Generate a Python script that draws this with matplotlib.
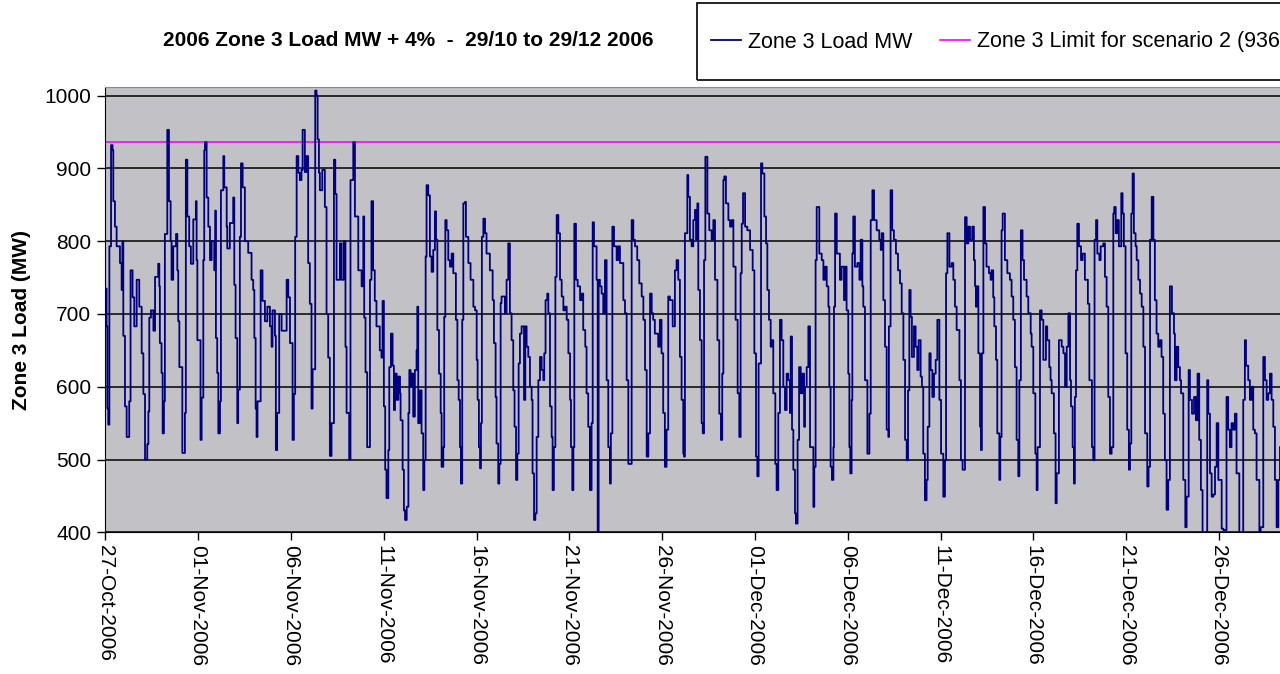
import datetime as dt
import matplotlib
matplotlib.use("Agg")
import matplotlib.pyplot as plt
import matplotlib.dates as mdates
from matplotlib.patches import Rectangle

plt.rcParams['font.family'] = ['Liberation Sans', 'DejaVu Sans']

# readings: days since 27-Oct-2006 00:00, load in MW
days = [
    0.00, 0.07, 0.11, 0.16, 0.22, 0.31, 0.39, 0.43, 0.52, 0.61, 0.79, 0.88, 0.92, 0.97,
    1.06, 1.15, 1.29, 1.36, 1.47, 1.56, 1.69, 1.83, 1.96, 2.05, 2.14, 2.26, 2.32, 2.37,
    2.46, 2.59, 2.68, 2.85, 2.91, 2.94, 3.03, 3.09, 3.16, 3.21, 3.34, 3.43, 3.52, 3.57,
    3.66, 3.81, 3.88, 3.93, 3.99, 4.15, 4.29, 4.34, 4.42, 4.52, 4.61, 4.74, 4.88, 4.92,
    4.96, 5.13, 5.19, 5.28, 5.33, 5.37, 5.46, 5.55, 5.64, 5.73, 5.87, 5.92, 5.96, 6.03,
    6.09, 6.18, 6.23, 6.36, 6.41, 6.54, 6.57, 6.71, 6.89, 6.95, 7.02, 7.11, 7.16, 7.25,
    7.31, 7.40, 7.52, 7.70, 7.88, 7.97, 8.03, 8.10, 8.15, 8.20, 8.37, 8.47, 8.60, 8.73,
    8.87, 8.96, 9.01, 9.14, 9.19, 9.26, 9.37, 9.50, 9.77, 9.86, 9.95, 10.09, 10.16, 10.23,
    10.31, 10.40, 10.48, 10.57, 10.63, 10.75, 10.84, 10.93, 11.02, 11.11, 11.17, 11.31,
    11.38, 11.44, 11.51, 11.56, 11.69, 11.83, 11.92, 12.01, 12.10, 12.19, 12.32, 12.39,
    12.46, 12.64, 12.73, 12.85, 12.94, 13.00, 13.14, 13.21, 13.36, 13.45, 13.63, 13.81,
    13.90, 13.95, 14.02, 14.11, 14.26, 14.34, 14.43, 14.52, 14.61, 14.79, 14.88, 14.94,
    15.01, 15.08, 15.15,
    15.25, 15.30, 15.39, 15.48, 15.55, 15.61, 15.70, 15.79, 15.88, 15.91, 16.02, 16.09,
    16.15, 16.24, 16.33, 16.38, 16.45, 16.50, 16.59, 16.68, 16.77, 16.81, 16.86, 16.95,
    17.04, 17.13, 17.19, 17.26, 17.31, 17.40, 17.49, 17.58, 17.67, 17.76, 17.82, 17.89,
    17.98, 18.07, 18.12, 18.21, 18.26, 18.32, 18.39, 18.48, 18.57, 18.66, 18.75, 18.89,
    18.97, 19.04, 19.11, 19.16, 19.23, 19.29, 19.38, 19.43, 19.56, 19.68, 19.83, 19.92,
    20.01, 20.06, 20.13, 20.19, 20.24, 20.29, 20.37, 20.46, 20.54, 20.72, 20.87, 20.94,
    21.03, 21.08, 21.17, 21.23, 21.30, 21.35, 21.53, 21.62, 21.71, 21.80, 21.89, 21.98,
    22.05, 22.13, 22.20, 22.27, 22.34, 22.43, 22.56, 22.63, 22.70, 22.79, 22.88, 22.97,
    23.02, 23.10, 23.17, 23.24, 23.33, 23.42, 23.51, 23.60, 23.65, 23.72, 23.81, 23.87,
    23.96, 24.05, 24.10, 24.17, 24.25, 24.32, 24.41, 24.50, 24.59, 24.68, 24.77, 24.86,
    24.95, 25.04, 25.09, 25.16, 25.22, 25.27, 25.36, 25.45, 25.58, 25.66, 25.75, 25.86,
    25.93, 26.02, 26.11, 26.20, 26.26, 26.33, 26.47, 26.53, 26.58, 26.65, 26.74, 26.83,
    26.92, 27.01, 27.10, 27.19, 27.24, 27.32, 27.41, 27.55, 27.64, 27.73, 27.91, 28.00,
    28.09, 28.18, 28.36, 28.45, 28.54, 28.66, 28.77, 28.90, 28.99, 29.08, 29.17, 29.26,
    29.35, 29.44, 29.52, 29.61, 29.79, 29.88, 29.97, 30.06, 30.15, 30.24, 30.33, 30.42,
    30.57, 30.69, 30.78, 30.87,
    30.96, 31.05, 31.14, 31.18, 31.23, 31.29, 31.36, 31.41, 31.50, 31.59, 31.68, 31.77,
    31.83, 31.90, 31.95, 32.04, 32.13, 32.19, 32.26, 32.33, 32.44, 32.54, 32.67, 32.76,
    32.85, 32.98, 33.08, 33.17, 33.24, 33.30, 33.35, 33.44, 33.57, 33.66, 33.75, 33.84,
    33.96, 34.07, 34.16, 34.23, 34.29, 34.36, 34.47, 34.59, 34.74, 34.88, 34.97, 35.06,
    35.13, 35.20, 35.33, 35.40, 35.51, 35.60, 35.67, 35.76, 35.85, 35.90, 35.99, 36.10,
    36.17, 36.26, 36.35, 36.44, 36.53, 36.62, 36.71, 36.80, 36.89, 36.93, 37.00, 37.07,
    37.16, 37.21, 37.30, 37.38, 37.47, 37.56, 37.65, 37.70, 37.79, 37.88, 37.97, 38.15,
    38.20, 38.27, 38.33, 38.47, 38.60, 38.69, 38.78, 38.87, 38.96, 39.01, 39.08, 39.15,
    39.23, 39.26, 39.32, 39.41, 39.58, 39.67, 39.80, 39.85, 39.94, 40.03, 40.09, 40.14,
    40.21, 40.25, 40.30, 40.39, 40.52, 40.63, 40.70, 40.79, 40.84, 40.93, 41.06, 41.17,
    41.24, 41.33, 41.42, 41.56, 41.70, 41.78, 41.83, 41.92, 42.01, 42.10, 42.19, 42.22,
    42.31, 42.40, 42.49, 42.60, 42.71, 42.82, 42.91, 43.00, 43.09, 43.18, 43.25, 43.32,
    43.39, 43.46, 43.57, 43.66, 43.75, 43.82, 43.93, 44.00, 44.07, 44.16, 44.25, 44.31,
    44.40, 44.47, 44.56, 44.65, 44.74, 44.83, 44.94, 45.03, 45.15, 45.24, 45.30, 45.37,
    45.48, 45.60, 45.69, 45.78, 45.87, 46.02, 46.10, 46.19,
    46.32, 46.41, 46.50, 46.59, 46.71, 46.80, 46.86, 46.91, 46.95, 47.04, 47.13, 47.18,
    47.23, 47.31, 47.40, 47.48, 47.61, 47.70, 47.75, 47.84, 47.90, 47.99, 48.06, 48.17,
    48.22, 48.29, 48.35, 48.47, 48.60, 48.74, 48.83, 48.92, 49.01, 49.10, 49.19, 49.25,
    49.33, 49.42, 49.50, 49.64, 49.73, 49.86, 49.91, 50.00, 50.11, 50.18, 50.23, 50.36,
    50.45, 50.54, 50.68, 50.75, 50.86, 50.93, 50.99, 51.11, 51.20, 51.26, 51.38, 51.53,
    51.62, 51.71, 51.80, 51.89, 51.98, 52.03, 52.12, 52.19, 52.24, 52.30, 52.37, 52.46,
    52.57, 52.66, 52.78, 52.87, 52.94, 53.02, 53.16, 53.23, 53.30, 53.38, 53.45, 53.56,
    53.63, 53.77, 53.86, 53.95, 54.04, 54.13, 54.22, 54.31, 54.36, 54.44, 54.52, 54.61,
    54.74, 54.81, 54.88, 54.97, 55.06, 55.15, 55.21, 55.28, 55.35, 55.42, 55.51, 55.57,
    55.66, 55.75, 55.84, 55.93, 56.02, 56.14, 56.21, 56.29, 56.38, 56.47, 56.55, 56.64,
    56.73, 56.82, 56.91, 57.00, 57.09, 57.18, 57.27, 57.36, 57.47, 57.58, 57.63, 57.72,
    57.81, 57.90, 57.96, 58.08, 58.19, 58.26, 58.37, 58.44, 58.55, 58.66, 58.76, 58.85,
    58.94, 59.03, 59.12, 59.30, 59.37, 59.43, 59.52, 59.61, 59.70, 59.79, 59.88, 59.97,
    60.15, 60.24, 60.41, 60.50, 60.59, 60.68, 60.77, 60.86, 60.95, 61.10, 61.24, 61.31,
    61.40, 61.46, 61.58, 61.67, 61.76, 61.85, 61.94, 62.03, 62.18, 62.25, 62.39, 62.48,
    62.57, 62.66, 62.75, 62.84, 62.93, 63.02, 63.11, 63.20, 63.29,
]

load_mw = [
    735, 683, 570, 548, 793, 932, 925, 855, 820, 793, 770, 733, 800, 670,
    573, 531, 580, 760, 723, 683, 747, 710, 646, 590, 500, 521, 566, 695,
    705, 677, 751, 769, 738, 660, 619, 536, 580, 810, 953, 855, 800, 747,
    793, 810, 760, 690, 627, 509, 564, 912, 834, 793, 769, 830, 855, 774,
    664, 527, 585, 774, 925, 936, 860, 820, 774, 800, 760, 842, 667, 619,
    536, 580, 870, 917, 874, 820, 790, 825, 860, 740, 667, 550, 596, 806,
    907, 874, 800, 784, 747, 733, 667, 570, 531, 580, 760, 718, 690, 710,
    683, 655, 705, 670, 513, 564, 700, 677, 747, 723, 660, 527, 590, 806,
    917, 894, 884, 898, 953, 895, 917, 770, 714, 570, 624, 1007,
    1000, 940, 894, 870, 898, 847, 700, 640, 505, 550, 912, 865,
    747, 797, 747, 800, 655, 564, 500, 884, 936, 834, 760, 738,
    834, 695, 620, 517, 747, 855, 760, 718, 683, 650, 640, 718,
    573, 486, 447,
    513, 627, 673, 629, 568, 618, 582, 614, 591, 554, 486, 430,
    417, 435, 564, 623, 600, 618, 559, 623, 650, 710, 550, 595,
    536, 458, 499, 779, 877, 863, 779, 758, 788, 841, 802, 678,
    618, 564, 490, 517, 696, 829, 815, 774, 765, 783, 756, 692,
    609, 582, 517, 467, 692, 852, 854, 806, 770, 747, 710, 705,
    637, 582, 517, 488, 550, 806, 831, 811, 783, 760, 719, 660,
    586, 522, 467, 494, 715, 724, 701, 747, 797, 701, 664, 595,
    545, 472, 508, 632, 673, 683, 582, 683, 655, 641, 600, 582,
    481, 417, 426, 531, 609, 641, 623, 609, 646, 719, 728, 701,
    573, 531, 458, 517, 751, 836, 811, 747, 724, 705, 710, 692,
    646, 582, 517, 458, 517, 824, 747, 738, 719, 728, 678, 655,
    591, 545, 458, 550, 826, 793, 747, 395, 747, 738, 728, 701,
    774, 609, 517, 467, 536, 820, 793, 774, 793, 770, 719, 701,
    609, 494, 829, 802, 793, 774, 742, 724, 692, 623, 504, 536,
    728, 701, 692, 673, 655, 692, 646, 564, 490, 541, 724, 719,
    683, 760, 774, 747,
    641, 582, 508, 504, 811, 811, 891, 861, 802, 793, 829, 843,
    802, 852, 733, 664, 550, 536, 774, 916, 838, 815, 802, 829,
    747, 664, 563, 527, 618, 884, 889, 852, 829, 820, 829, 765,
    692, 591, 531, 756, 824, 866, 820, 815, 788, 760, 646, 504,
    477, 632, 907, 893, 834, 797, 733, 692, 655, 664, 591, 494,
    458, 564, 692, 664, 600, 568, 618, 609, 564, 669, 541, 486,
    426, 412, 527, 627, 591, 618, 545, 600, 627, 683, 517, 435,
    490, 774, 847, 783, 774, 747, 765, 738, 710, 600, 490, 472,
    517, 710, 838, 783, 747, 765, 719, 765, 705, 618, 517, 481,
    582, 783, 834, 765, 770, 747, 802, 738, 710, 609, 508, 563,
    829, 870, 829, 815, 802, 788, 811, 719, 655, 541, 531, 683,
    870, 815, 802, 783, 760, 742, 701, 637, 527, 499, 595, 733,
    696, 641, 683, 655, 623, 664, 614, 600, 508, 444, 472, 545,
    646, 623, 586, 618, 637, 692, 582, 508, 449, 499, 756, 811,
    765, 770, 747, 710, 678, 609, 499, 486,
    833, 797, 820, 802, 820, 774, 738, 710, 738, 646, 545, 513,
    646, 847, 797, 765, 756, 747, 760, 723, 683, 637, 536, 472,
    531, 815, 838, 774, 756, 747, 724, 692, 627, 527, 477, 609,
    815, 774, 747, 724, 701, 673, 655, 591, 508, 458, 517, 705,
    692, 637, 683, 664, 627, 609, 591, 536, 440, 481, 664, 655,
    646, 600, 655, 701, 609, 573, 517, 467, 586, 760, 824, 793,
    774, 783, 747, 747, 714, 609, 517, 499, 802, 829, 783, 774,
    793, 797, 751, 710, 586, 508, 517, 838, 847, 811, 829, 793,
    866, 838, 793, 646, 541, 486, 522, 838, 893, 811, 793, 774,
    747, 728, 710, 655, 536, 463, 490, 802, 861, 802, 719, 673,
    655, 664, 641, 563, 499, 431, 472, 738, 701, 673, 609, 655,
    627, 609, 591, 472, 407, 449, 623, 582, 563, 586, 554, 618,
    527, 458, 395, 395, 609, 563, 481, 449, 452, 490, 550, 472,
    405, 403, 586, 541, 517, 550, 541, 563, 481, 395, 395, 582,
    664, 629, 609, 582, 600, 541, 536, 472, 395, 407, 641, 609,
    582, 591, 618, 582, 545, 472, 407, 472, 517,
]

limit_mw = 936
start = dt.datetime(2006, 10, 27)
end_day = 64
tick_step = 5

times = [start + dt.timedelta(days=d) for d in days]
tick_dates = [start + dt.timedelta(days=tick_step * k) for k in range(13)]

fig = plt.figure(figsize=(12.8, 6.74), dpi=100)
ax = fig.add_axes([105.3 / 1280, 141.7 / 674, end_day * 18.56 / 1280, 445 / 674])
ax.set_facecolor('#c2c1c5')

for v in range(400, 1001, 100):
    ax.axhline(v, color='black', lw=1.1, zorder=1)

ax.plot([start, start + dt.timedelta(days=end_day)], [limit_mw, limit_mw],
        color='#ff00ff', lw=1.2, zorder=2, label='Zone 3 Limit for scenario 2 (936 MW)')
ax.plot(times, load_mw, color='#000080', lw=1.3, drawstyle='steps-post', zorder=3,
        label='Zone 3 Load MW')

ax.set_xlim(start, start + dt.timedelta(days=end_day))
ax.set_ylim(400, 1011.5)
ax.set_yticks(range(400, 1001, 100))
ax.set_xticks(tick_dates)
ax.xaxis.set_major_formatter(mdates.DateFormatter('%d-%b-%Y'))
ax.tick_params(axis='y', labelsize=15, length=6, width=1, pad=4, direction='out')
ax.tick_params(axis='x', labelsize=15, length=6, width=1, pad=3, direction='out',
               labelrotation=270)
for lab in ax.get_xticklabels():
    lab.set_va('top')
    lab.set_ha('center')

ax.spines['left'].set_color('black')
ax.spines['bottom'].set_color('black')
ax.spines['top'].set_color('#8a8a8a')
ax.spines['right'].set_visible(False)

fig.text(408 / 1280, 1 - 40 / 674, '2006 Zone 3 Load MW + 4%  -  29/10 to 29/12 2006',
         ha='center', va='center', fontsize=15, fontweight='bold')
fig.text(22 / 1280, 1 - 320 / 674, 'Zone 3 Load (MW)', rotation=90,
         ha='center', va='center', fontsize=15, fontweight='bold')

# legend box, cut by the right edge of the picture
fig.patches.append(Rectangle((697 / 1280, 1 - 80 / 674), 700 / 1280, 77 / 674,
                             transform=fig.transFigure, fill=False,
                             edgecolor='black', lw=1.2))
h, l = ax.get_legend_handles_labels()
fig.legend(h[::-1], l[::-1], loc='center left', bbox_to_anchor=(711 / 1280, 1 - 42 / 674),
           ncol=2, frameon=False, fontsize=15.5, handlelength=1.4, handletextpad=0.3,
           columnspacing=1.3, borderpad=0, borderaxespad=0)

fig.savefig('out.png', dpi=100)
